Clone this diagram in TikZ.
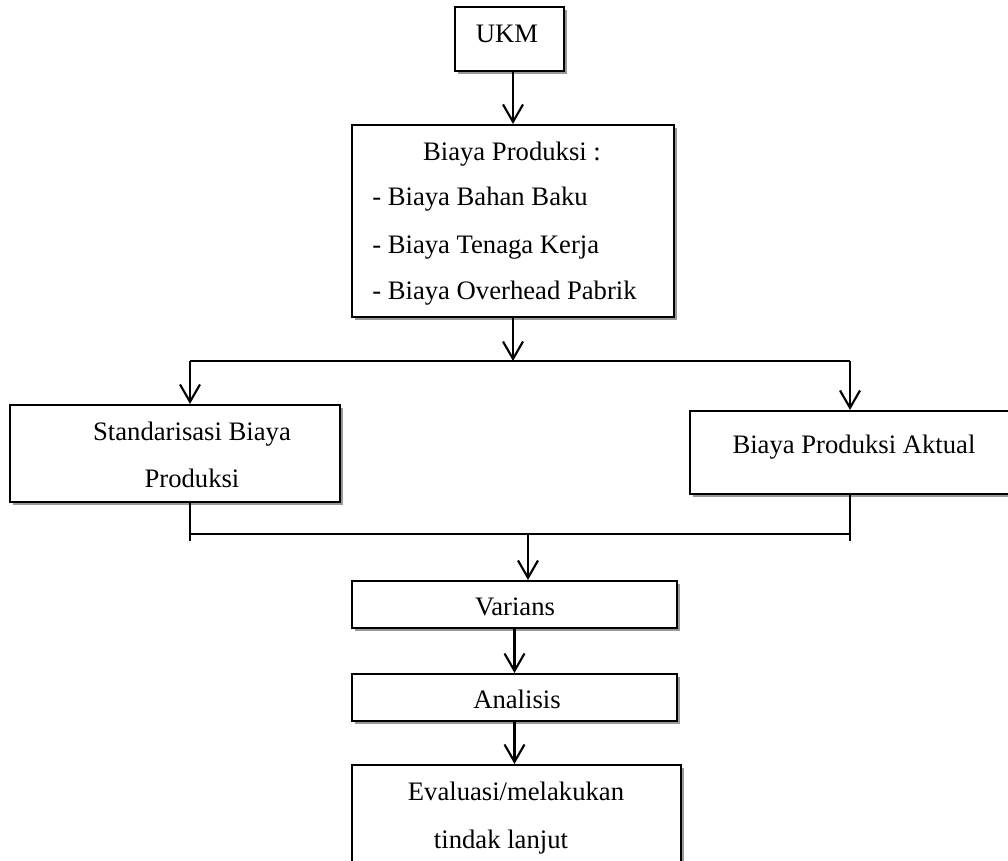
\documentclass[tikz,border=0pt]{standalone}
\usepackage{fontspec}
\setmainfont{Liberation Serif}
\usetikzlibrary{arrows.meta,shadows}

\tikzset{
  box/.style={draw, rectangle, line width=1.6pt, fill=white, inner sep=0pt,
    drop shadow={shadow xshift=2.4pt, shadow yshift=-2.4pt, fill=gray!80, opacity=1}},
  lbl/.style={anchor=base, inner sep=0pt, font=\fontsize{20}{24}\selectfont},
  arr/.style={line width=1.6pt, -{Straight Barb[length=13pt,width=15pt,line width=1.6pt]}},
  link/.style={line width=1.6pt}
}

\begin{document}
\begin{tikzpicture}[x=0.75pt,y=-0.75pt]
  \useasboundingbox (0,0) rectangle (1008,861);

  % Boxes
  \node[box, minimum width=81.75pt, minimum height=48pt] (ukm) at (509.5,39) {};
  \node[box, minimum width=241.5pt, minimum height=144pt] (prod) at (513,221) {};
  \node[box, minimum width=247.5pt, minimum height=72.75pt] (std) at (175,453.5) {};
  \node[box, minimum width=241.5pt, minimum height=62.25pt] (akt) at (851,452.5) {};
  \node[box, minimum width=243.75pt, minimum height=35.25pt] (var) at (514.5,604.5) {};
  \node[box, minimum width=243.75pt, minimum height=35.25pt] (ana) at (514.5,697.5) {};
  \node[box, minimum width=246.75pt, minimum height=86.25pt] (eva) at (516.5,822.5) {};

  % Texts
  \node[lbl] (ukmtxt) at (507,42) {UKM};
  \node[lbl] (prodtxt) at (512,160) {Biaya Produksi :};
  \node[lbl, anchor=base west] (bbb) at (372,205) {- Biaya Bahan Baku};
  \node[lbl, anchor=base west] (btk) at (372,253) {- Biaya Tenaga Kerja};
  \node[lbl, anchor=base west] (bop) at (372,299) {- Biaya Overhead Pabrik};
  \node[lbl] (stdtxta) at (192,440) {Standarisasi Biaya};
  \node[lbl] (stdtxtb) at (192,487) {Produksi};
  \node[lbl] (akttxt) at (854,453) {Biaya Produksi Aktual};
  \node[lbl] (vartxt) at (515,615) {Varians};
  \node[lbl] (anatxt) at (517,708) {Analisis};
  \node[lbl] (evatxta) at (516,800) {Evaluasi/melakukan};
  \node[lbl] (evatxtb) at (501,848) {tindak lanjut};

  % Split and merge points
  \coordinate (splitL) at (190,361);
  \coordinate (splitC) at (513,361);
  \coordinate (splitR) at (850,361);
  \coordinate (mergeL) at (190,534);
  \coordinate (mergeC) at (528,534);
  \coordinate (mergeR) at (850,534);

  % Connectors
  \draw[arr] (prod.north |- ukm.south) -- (prod.north);
  \draw[arr] (prod.south) -- (splitC);
  \draw[link] (splitL) -- (splitR);
  \draw[arr] (splitL) -- (splitL |- std.north);
  \draw[arr] (splitR) -- (splitR |- akt.north);
  \draw[link] (mergeL |- std.south) -- ++(0,38);
  \draw[link] (mergeR |- akt.south) -- ++(0,46);
  \draw[link] (mergeL) -- (mergeR);
  \draw[arr] (mergeC) -- (mergeC |- var.north);
  \draw[arr] (var.south) -- (var.south |- ana.north);
  \draw[arr] (ana.south) -- (ana.south |- eva.north);
\end{tikzpicture}
\end{document}
